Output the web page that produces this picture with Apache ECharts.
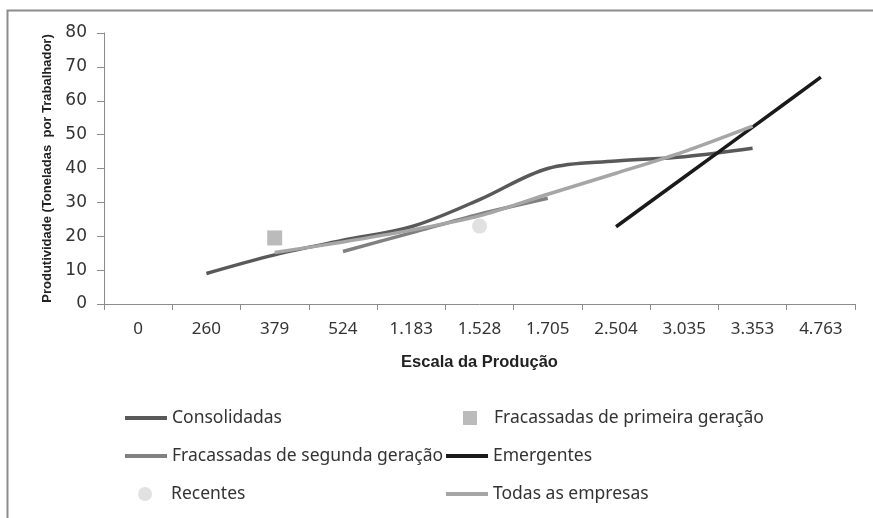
<!DOCTYPE html>
<html>
<head>
<meta charset="utf-8">
<script src="https://cdn.jsdelivr.net/npm/echarts@6/dist/echarts.min.js"></script>
<style>html,body{margin:0;padding:0;background:#fff}#c{width:873px;height:518px}</style>
</head>
<body>
<div id="c"></div>
<script>
const categories = ['0','260','379','524','1.183','1.528','1.705','2.504','3.035','3.353','4.763'];
const consolidadas = [null, 9, 14.5, 18.8, 22.8, 30.8, 40, 42.2, 43.5, 46, null];
const fracassadasPrimeira = [null, null, 19.5, null, null, null, null, null, null, null, null];
const fracassadasSegunda = [null, null, null, 15.5, 21, 26.5, 31.2, null, null, null, null];
const emergentes = [null, null, null, null, null, null, null, 22.8, 37.5, 52.2, 67];
const recentes = [null, null, null, null, null, 23, null, null, null, null, null];
const todas = [null, null, 15.2, 18.3, 21.8, 26, 32.4, 38.6, 45, 52.5, null];
const yTicks = {min: 0, max: 80, interval: 10};

const names = ['Consolidadas','Fracassadas de primeira geração','Fracassadas de segunda geração','Emergentes','Recentes','Todas as empresas'];
const legendFont = {fontFamily: 'Noto Sans', fontSize: 17.5, color: '#333', lineHeight: 20};

function lineLegend(name, left, cy) {
  return {data: [{name: name, icon: 'rect'}], left: left, top: cy - 10, padding: 0, itemWidth: 42, itemHeight: 4,
    textStyle: legendFont, selectedMode: false};
}
function symLegend(name, left, cy, pad) {
  return {data: [name], left: left, top: cy - 10, padding: 0, itemWidth: 14, itemHeight: 14,
    textStyle: Object.assign({}, legendFont, {padding: [0,0,0,pad]}), selectedMode: false};
}

const chart = echarts.init(document.getElementById('c'), null, {renderer: 'canvas'});
chart.setOption({
  backgroundColor: '#fff',
  animation: false,
  graphic: [
    {type: 'polyline', shape: {points: [[7.5, 518], [7.5, 10.5], [873, 10.5]]}, style: {stroke: '#8c8c8c', lineWidth: 2, fill: null}}
  ],
  grid: {left: 104, right: 18, top: 33, bottom: 214},
  legend: [
    lineLegend(names[0], 125, 418),
    lineLegend(names[2], 125, 456),
    symLegend(names[4], 138, 494, 14),
    symLegend(names[1], 463, 418, 12),
    lineLegend(names[3], 446, 456),
    lineLegend(names[5], 446, 494)
  ],
  xAxis: {
    type: 'category', data: categories, boundaryGap: true,
    name: 'Escala da Produção', nameLocation: 'middle', nameGap: 50,
    nameTextStyle: {fontFamily: 'Liberation Sans', fontWeight: 'bold', fontSize: 16.5, color: '#222'},
    axisLine: {lineStyle: {color: '#8c8c8c', width: 1}},
    axisTick: {show: true, length: 6, alignWithLabel: false, lineStyle: {color: '#8c8c8c'}},
    axisLabel: {margin: 17, fontFamily: 'Noto Sans', fontSize: 17, color: '#333', interval: 0},
    splitLine: {show: false}
  },
  yAxis: {
    type: 'value', min: yTicks.min, max: yTicks.max, interval: yTicks.interval,
    name: 'Produtividade (Toneladas  por Trabalhador)', nameLocation: 'middle', nameGap: 50,
    nameRotate: 90,
    nameTextStyle: {fontFamily: 'Liberation Sans', fontWeight: 'bold', fontSize: 13, color: '#222'},
    axisLine: {show: true, lineStyle: {color: '#8c8c8c', width: 1}},
    axisTick: {show: true, length: 7, lineStyle: {color: '#8c8c8c'}},
    axisLabel: {margin: 17, fontFamily: 'DejaVu Sans', fontSize: 17, color: '#333'},
    splitLine: {show: false}
  },
  series: [
    {name: names[0], type: 'line', data: consolidadas, smooth: 0.35, symbol: 'none',
      lineStyle: {color: '#595959', width: 3.5}, itemStyle: {color: '#595959'}},
    {name: names[1], type: 'scatter', data: fracassadasPrimeira, symbol: 'rect', symbolSize: 15,
      itemStyle: {color: '#aaaaaa'}},
    {name: names[2], type: 'line', data: fracassadasSegunda, smooth: 0.3, symbol: 'none',
      lineStyle: {color: '#808080', width: 3.5}, itemStyle: {color: '#808080'}},
    {name: names[3], type: 'line', data: emergentes, smooth: 0.3, symbol: 'none',
      lineStyle: {color: '#1a1a1a', width: 3.5}, itemStyle: {color: '#1a1a1a'}},
    {name: names[4], type: 'scatter', data: recentes, symbol: 'circle', symbolSize: 15,
      itemStyle: {color: '#d9d9d9'}},
    {name: names[5], type: 'line', data: todas, smooth: 0.3, symbol: 'none',
      lineStyle: {color: '#a6a6a6', width: 3.5}, itemStyle: {color: '#a6a6a6'}}
  ]
});
</script>
</body>
</html>
